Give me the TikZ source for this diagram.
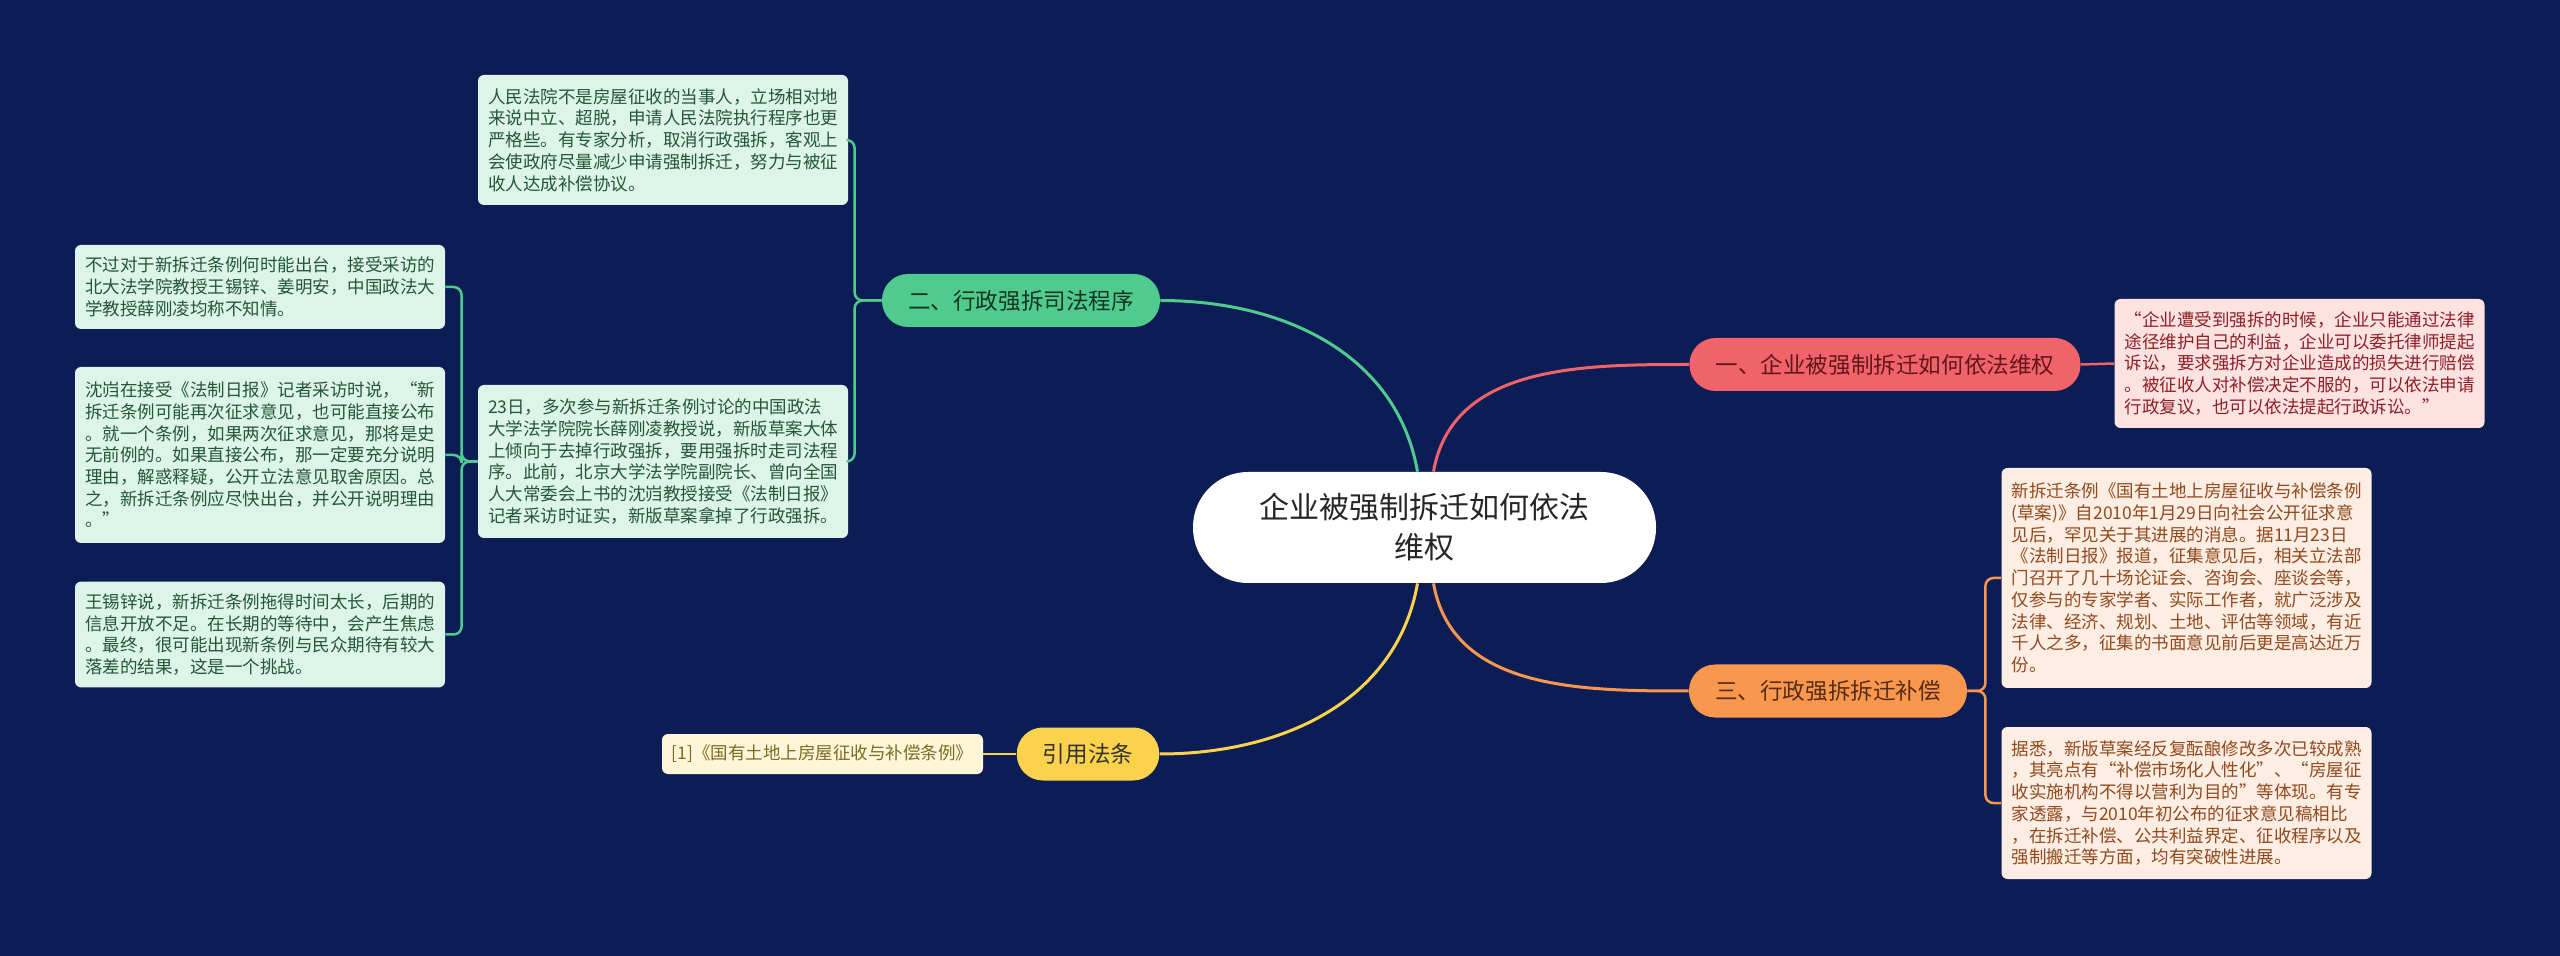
\documentclass[tikz,border=0pt]{standalone}
\usepackage{fontspec}
\newfontfamily\cjk{Noto Sans CJK SC}
\definecolor{bgnavy}{HTML}{0C1C55}
\definecolor{brgreen}{HTML}{4FCB8E}
\definecolor{brred}{HTML}{F0636A}
\definecolor{brorange}{HTML}{F9974F}
\definecolor{bryellow}{HTML}{FBD24C}
\definecolor{lfgreen}{HTML}{DDF4E8}
\definecolor{lfpink}{HTML}{FDE2E2}
\definecolor{lfpeach}{HTML}{FDEDE3}
\definecolor{lfyellow}{HTML}{FFF6DA}
\definecolor{txgreen}{HTML}{24563B}
\definecolor{txred}{HTML}{8E1F25}
\definecolor{txbrown}{HTML}{904A1E}
\definecolor{txolive}{HTML}{7D6B22}
\begin{document}
\begin{tikzpicture}[x=0.5pt, y=-0.5pt,
  leaf/.style={rounded corners=3pt, inner xsep=5pt, inner ysep=6pt, text width=175pt, align=left,
    font=\cjk\fontsize{8.75pt}{10.85pt}\selectfont},
  branch/.style={rounded corners=13pt, inner xsep=13pt, minimum height=26.5pt,
    font=\cjk\fontsize{11.3pt}{13pt}\selectfont},
  link/.style={line width=1.25pt, rounded corners=4pt}]
  % 背景
  \fill[bgnavy] (0,0) rectangle (2560,956);

  % 中心主题
  \node[fill=white, rounded corners=27.5pt, minimum width=231.5pt, minimum height=55.5pt, align=center,
    text=black!85, font=\cjk\fontsize{15pt}{20pt}\selectfont] (root) at (1424.5,527.5)
    {企业被强制拆迁如何依法\\维权};

  % 四个分支
  \node[branch, fill=brgreen, text=txgreen!60!black] (procedure) at (1021,300.5) {二、行政强拆司法程序};
  \node[branch, fill=brred, text=txred!70!black] (rights) at (1885,364.5) {一、企业被强制拆迁如何依法维权};
  \node[branch, fill=brorange, text=txbrown!60!black] (compensation) at (1828,691) {三、行政强拆拆迁补偿};
  \node[branch, fill=bryellow, text=black!80] (citelaw) at (1088,754) {引用法条};

  % 中心到分支的曲线
  \draw[line width=1.5pt, brgreen] ([xshift=-3.5pt]root.north) to[out=100, in=0] (procedure.east);
  \draw[line width=1.5pt, brred] ([xshift=4.5pt]root.north) to[out=80, in=180] (rights.west);
  \draw[line width=1.5pt, bryellow] ([xshift=-3.5pt]root.south) to[out=-100, in=0] (citelaw.east);
  \draw[line width=1.5pt, brorange] ([xshift=4.5pt]root.south) to[out=-80, in=180] (compensation.west);

  % 分支一
  \node[leaf, fill=lfpink, text=txred, minimum height=64.5pt] (rightsA) at (2299.5,363.5)
    {“企业遭受到强拆的时候，企业只能通过法律\\
     途径维护自己的利益，企业可以委托律师提起\\
     诉讼，要求强拆方对企业造成的损失进行赔偿\\
     。被征收人对补偿决定不服的，可以依法申请\\
     行政复议，也可以依法提起行政诉讼。”};
  \draw[link, brred] (rights.east) -- (rightsA.west);

  % 分支二
  \node[leaf, fill=lfgreen, text=txgreen, minimum height=65pt] (procA) at (663,140)
    {人民法院不是房屋征收的当事人，立场相对地\\
     来说中立、超脱，申请人民法院执行程序也更\\
     严格些。有专家分析，取消行政强拆，客观上\\
     会使政府尽量减少申请强制拆迁，努力与被征\\
     收人达成补偿协议。};
  \node[leaf, fill=lfgreen, text=txgreen, minimum height=76.5pt] (procB) at (663,461.5)
    {23日，多次参与新拆迁条例讨论的中国政法\\
     大学法学院院长薛刚凌教授说，新版草案大体\\
     上倾向于去掉行政强拆，要用强拆时走司法程\\
     序。此前，北京大学法学院副院长、曾向全国\\
     人大常委会上书的沈岿教授接受《法制日报》\\
     记者采访时证实，新版草案拿掉了行政强拆。};
  \node[leaf, fill=lfgreen, text=txgreen, minimum height=42pt] (procC1) at (260,287)
    {不过对于新拆迁条例何时能出台，接受采访的\\
     北大法学院教授王锡锌、姜明安，中国政法大\\
     学教授薛刚凌均称不知情。};
  \node[leaf, fill=lfgreen, text=txgreen, minimum height=88pt] (procC2) at (260,455)
    {沈岿在接受《法制日报》记者采访时说，“新\\
     拆迁条例可能再次征求意见，也可能直接公布\\
     。就一个条例，如果两次征求意见，那将是史\\
     无前例的。如果直接公布，那一定要充分说明\\
     理由，解惑释疑，公开立法意见取舍原因。总\\
     之，新拆迁条例应尽快出台，并公开说明理由\\
     。”};
  \node[leaf, fill=lfgreen, text=txgreen, minimum height=52.5pt] (procC3) at (260,634.5)
    {王锡锌说，新拆迁条例拖得时间太长，后期的\\
     信息开放不足。在长期的等待中，会产生焦虑\\
     。最终，很可能出现新条例与民众期待有较大\\
     落差的结果，这是一个挑战。};
  \foreach \t in {procA, procB} {
    \draw[link, brgreen] (procedure.west) -- ++(-27,0) |- (\t.east);
  }
  \foreach \t in {procC1, procC2, procC3} {
    \draw[link, brgreen] (procB.west) -- ++(-16,0) |- (\t.east);
  }

  % 分支三
  \node[leaf, fill=lfpeach, text=txbrown, minimum height=110pt] (compA) at (2186.5,578)
    {新拆迁条例《国有土地上房屋征收与补偿条例\\
     (草案)》自2010年1月29日向社会公开征求意\\
     见后，罕见关于其进展的消息。据11月23日\\
     《法制日报》报道，征集意见后，相关立法部\\
     门召开了几十场论证会、咨询会、座谈会等，\\
     仅参与的专家学者、实际工作者，就广泛涉及\\
     法律、经济、规划、土地、评估等领域，有近\\
     千人之多，征集的书面意见前后更是高达近万\\
     份。};
  \node[leaf, fill=lfpeach, text=txbrown, minimum height=76pt] (compB) at (2186.5,803)
    {据悉，新版草案经反复酝酿修改多次已较成熟\\
     ，其亮点有“补偿市场化人性化”、“房屋征\\
     收实施机构不得以营利为目的”等体现。有专\\
     家透露，与2010年初公布的征求意见稿相比\\
     ，在拆迁补偿、公共利益界定、征收程序以及\\
     强制搬迁等方面，均有突破性进展。};
  \foreach \t in {compA, compB} {
    \draw[link, brorange] (compensation.east) -- ++(18,0) |- (\t.west);
  }

  % 引用法条
  \node[rounded corners=3pt, fill=lfyellow, text=txolive, minimum width=160.5pt, minimum height=20pt,
    font=\cjk\fontsize{8.75pt}{10.85pt}\selectfont] (citeA) at (822.5,754)
    {[1]《国有土地上房屋征收与补偿条例》};
  \draw[link, bryellow] (citelaw.west) -- (citeA.east);
\end{tikzpicture}
\end{document}
